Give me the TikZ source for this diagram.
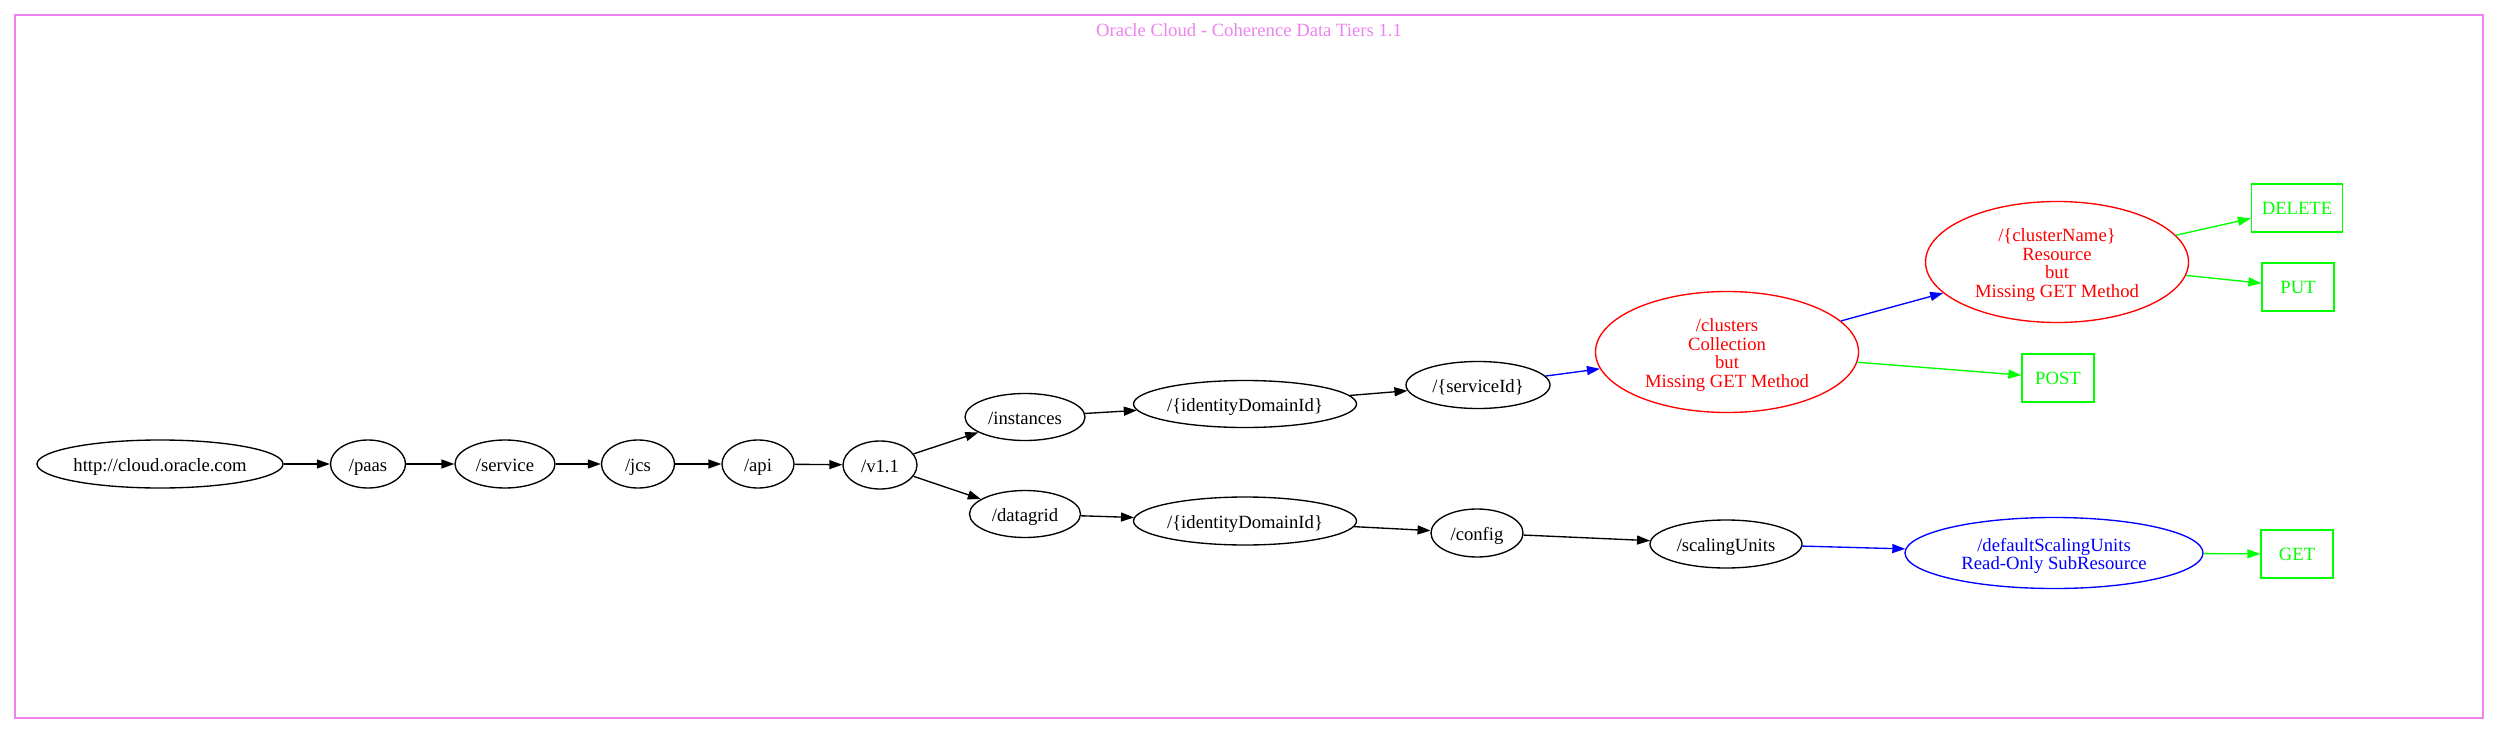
\documentclass[tikz,border=0pt]{standalone}
\usepackage{fontspec}
\setmainfont{Liberation Serif}
\usetikzlibrary{shapes.geometric,arrows.meta}
\definecolor{vio}{HTML}{EE82EE}
\definecolor{gvgreen}{HTML}{00FF00}
\definecolor{gvred}{HTML}{FF0000}
\definecolor{gvblue}{HTML}{0000FF}
\newcommand{\lbl}[1]{\makebox[0pt]{\raisebox{-8pt}[0pt][0pt]{\begin{tabular}{@{}c@{}}#1\end{tabular}}}}
\begin{document}
\begin{tikzpicture}[x=1pt,y=-1pt,
  every node/.style={font=\fontsize{18.67}{18.6}\selectfont},
  ell/.style={ellipse,draw,line width=1.35pt,inner sep=0pt},
  box/.style={rectangle,draw=gvgreen,text=gvgreen,line width=1.35pt,inner sep=0pt,minimum height=48pt},
  arr/.style={line width=1.35pt,-{Triangle[length=13pt,width=9pt]}},
  blk/.style={arr,black},
  blu/.style={arr,gvblue},
  grn/.style={arr,gvgreen}]
\useasboundingbox (0,0) rectangle (2498,733);
\draw[vio,line width=1.35pt] (15,15) rectangle (2483,718);
\node[text=vio] (title) at (1249,30) {Oracle Cloud - Coherence Data Tiers 1.1};

\node[ell,minimum width=246pt,minimum height=48pt] (http) at (160,464) {\lbl{http://cloud.oracle.com}};
\node[ell,minimum width=75pt,minimum height=48pt] (paas) at (368,464) {\lbl{/paas}};
\node[ell,minimum width=100pt,minimum height=48pt] (service) at (505,464) {\lbl{/service}};
\node[ell,minimum width=73pt,minimum height=48pt] (jcs) at (638,464) {\lbl{/jcs}};
\node[ell,minimum width=72pt,minimum height=48pt] (api) at (758,464) {\lbl{/api}};
\node[ell,minimum width=74pt,minimum height=48pt] (v11) at (880,465) {\lbl{/v1.1}};
\node[ell,minimum width=120pt,minimum height=47pt] (inst) at (1025,417) {\lbl{/instances}};
\node[ell,minimum width=111pt,minimum height=47pt] (dg) at (1025,514) {\lbl{/datagrid}};
\node[ell,minimum width=223pt,minimum height=47pt] (idA) at (1245,404) {\lbl{/\{identityDomainId\}}};
\node[ell,minimum width=223pt,minimum height=48pt] (idB) at (1245,521) {\lbl{/\{identityDomainId\}}};
\node[ell,minimum width=144pt,minimum height=47pt] (sid) at (1478,385) {\lbl{/\{serviceId\}}};
\node[ell,minimum width=92pt,minimum height=48pt] (cfg) at (1477,533) {\lbl{/config}};
\node[ell,draw=gvred,text=gvred,minimum width=263pt,minimum height=121pt] (cl) at (1727,352) {\lbl{/clusters\\Collection\\but\\Missing GET Method}};
\node[ell,minimum width=152pt,minimum height=48pt] (su) at (1726,544) {\lbl{/scalingUnits}};
\node[ell,draw=gvred,text=gvred,minimum width=263pt,minimum height=121pt] (cn) at (2057,262) {\lbl{/\{clusterName\}\\Resource\\but\\Missing GET Method}};
\node[ell,draw=gvblue,text=gvblue,minimum width=298pt,minimum height=71pt] (dsu) at (2054,553) {\lbl{/defaultScalingUnits\\Read-Only SubResource}};
\node[box,minimum width=91pt] (del) at (2297,208) {DELETE};
\node[box,minimum width=72pt] (put) at (2298,287) {PUT};
\node[box,minimum width=72pt] (post) at (2058,378) {POST};
\node[box,minimum width=72pt] (get) at (2297,554) {GET};

\draw[blk] (http) -- (paas);
\draw[blk] (paas) -- (service);
\draw[blk] (service) -- (jcs);
\draw[blk] (jcs) -- (api);
\draw[blk] (api) -- (v11);
\draw[blk] (v11) -- (inst);
\draw[blk] (v11) -- (dg);
\draw[blk] (inst) -- (idA);
\draw[blk] (dg) -- (idB);
\draw[blk] (idA) -- (sid);
\draw[blk] (idB) -- (cfg);
\draw[blu] (sid) -- (cl);
\draw[blk] (cfg) -- (su);
\draw[blu] (cl) -- (cn);
\draw[grn] (cl) -- (post);
\draw[grn] (cn) -- (del);
\draw[grn] (cn) -- (put);
\draw[blu] (su) -- (dsu);
\draw[grn] (dsu) -- (get);
\end{tikzpicture}
\end{document}
